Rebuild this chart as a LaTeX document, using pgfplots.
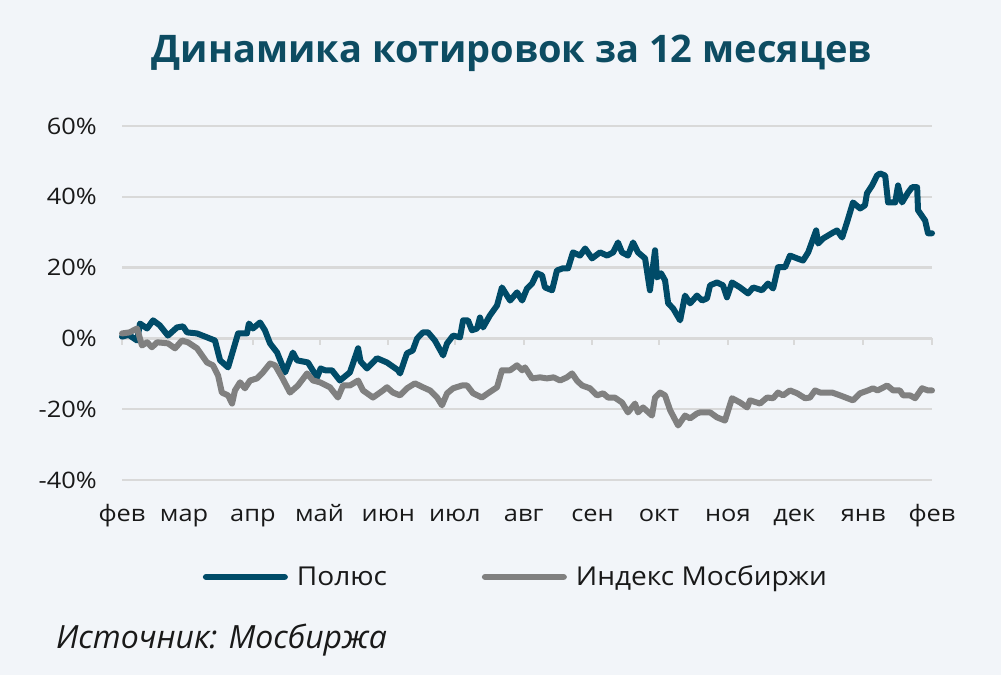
\documentclass[border=0pt]{standalone}
\usepackage{fontspec}
\setmainfont{Open Sans}
\newfontfamily\widefont{Open Sans}[FakeStretch=1.08]
\newfontfamily\tickfont{Open Sans}[FakeStretch=1.12]
\usepackage{pgfplots}
\usepackage{pgfplotstable}
\pgfplotsset{compat=1.18}
\definecolor{bg}{RGB}{242,245,249}
\definecolor{gridcol}{RGB}{217,217,217}
\definecolor{polcol}{RGB}{0,75,104}
\definecolor{titlecol}{RGB}{13,76,98}
\definecolor{idxcol}{RGB}{128,128,128}
\definecolor{txt}{RGB}{25,25,25}

\pgfplotstableread{
day pct
0 0.5
3 1.0
6.8 -0.6
8.1 4.2
11.3 2.8
14 5.1
17 3.7
20.7 0.8
24.8 3.1
27.5 3.4
29.3 1.7
33.8 1.4
38.3 0.3
41.9 -0.6
44.2 -6.2
47.8 -8.2
52.3 1.4
56.3 1.4
57.2 4.2
59 2.8
62.2 4.5
64.4 2.3
66.7 -1.4
69.9 -4.0
73.5 -9.6
77 -4.0
78.9 -6.2
83.8 -6.8
87.9 -11.0
89.5 -8.5
91.5 -9.0
94.6 -9.0
98.2 -11.9
102.7 -9.6
106.4 -2.8
107.5 -6.5
110.4 -8.5
114.9 -5.6
119.4 -6.8
124.4 -9.0
125.3 -9.9
128.4 -4.2
131 -3.4
133 0
135.6 1.7
137.9 1.7
141 -0.6
144.7 -4.8
146.5 -1.4
149.2 0.8
152.3 0.3
153.7 5.1
155.9 5.1
157.7 2.3
160 2.8
161.3 5.9
162.7 3.1
165.8 6.5
169 9.3
171.2 14.4
174.9 10.7
178 13
180.3 10.7
182.5 14.1
184.8 15.5
187 18.4
189.3 17.8
190.6 14.4
193.8 13.6
196 19.2
198.7 19.8
201 19.8
203.2 24.3
206.4 23.4
208.7 25.4
211.8 22.6
215.4 24.3
218.6 23.4
221.3 24.3
223.5 27.1
225.3 24.3
228 23.4
230.3 27.1
232.5 24.3
235.7 22.6
237.9 13.6
240.2 24.9
241.1 17.2
242.9 18.4
244.7 16.4
246.1 9.9
248.3 8.5
251.5 5.1
253.7 12.1
256 9.9
259.1 12.1
261.4 10.7
263.6 11.3
265 15
268.1 15.8
270.8 15
272.6 11.6
274.9 15.8
278.5 14.4
282.1 12.7
284.4 14.4
288.4 13.6
291.1 15.5
293.4 14.1
295.6 20.1
298.8 20.1
301 23.4
304.2 22.6
306.9 22
309.2 24.3
312.8 30.5
313.7 26.8
315.9 28.2
320.4 29.9
322.2 30.5
324.5 28.5
326.7 32.8
329.4 38.4
332.6 36.7
334.8 37.6
335.7 41
338 43.2
340.2 46
341.6 46.6
343.9 46
345.2 38.4
348.4 38.4
349.7 43.2
351.5 38.4
354.2 41.2
356 42.7
358.3 42.7
358.7 36.2
361.9 33.3
363.2 29.7
365 29.7
}\polyus

\pgfplotstableread{
day pct
0 1.4
3.4 1.7
6.8 2.8
9 -2
11.3 -1.1
13.5 -2.5
15.8 -1.1
20.7 -1.4
23.9 -2.8
27 -0.6
29.7 -1.1
33.8 -2.8
38.3 -6.8
41 -7.6
43.3 -10.5
45 -15.3
47.8 -16.1
49.6 -18.4
50.9 -14.7
53.2 -12.4
55.4 -14.1
57.7 -11.9
60.8 -11.3
63.5 -9.6
66.7 -7.1
69 -7.6
72.1 -11
75.7 -15.3
79.3 -13.3
83.4 -9.9
86.1 -11.9
89.2 -12.4
93.7 -13.8
97.3 -16.7
99.6 -13.3
102.7 -13.3
106.4 -11.9
108.6 -14.7
113.1 -16.7
117.6 -14.7
119.4 -13.8
122.1 -15.3
125.3 -16.1
128.4 -14.1
132 -12.7
135.6 -13.8
138.8 -14.7
142 -16.7
144.2 -18.9
146.5 -15.5
149.2 -14.1
153.2 -13.3
155.5 -13.3
158.2 -15.5
162.2 -16.7
164.9 -15.5
169 -13.8
171.2 -9
174.9 -9
178 -7.6
180.3 -9
181.6 -8.2
184.8 -11.3
188.4 -11
191.5 -11.3
194.5 -11
197.4 -11.9
200.5 -11
202.8 -9.9
205 -11.9
207.3 -13.3
210.9 -14.1
214.1 -16.1
216.8 -15.5
219 -16.7
222 -16.7
225.3 -18.1
228 -20.9
231.2 -18.4
232.5 -20.9
234.8 -19.5
238.8 -21.8
240.2 -16.7
242.5 -15.3
244.7 -16.1
247 -20.3
250.6 -24.6
253.7 -21.8
256 -22.6
259.1 -21.2
260.5 -20.9
265 -20.9
268.1 -22.3
271.7 -23.2
274.9 -16.9
278.5 -18.1
281.7 -19.5
283 -17.5
287.5 -18.4
290.7 -16.7
293.4 -16.9
295.6 -15.3
297.9 -16.1
301 -14.7
304.2 -15.5
307.8 -16.9
310 -16.7
312.3 -14.7
314.6 -15.3
320 -15.3
323.6 -16.1
329.4 -17.5
332.6 -15.5
336.2 -14.7
338.4 -14.1
340.5 -14.7
344.8 -13.3
347.5 -14.7
350.5 -14.7
352 -16.1
355.1 -16.1
357.4 -16.9
360.5 -14.1
363.2 -14.7
365 -14.7
}\moex

\begin{document}
\begin{tikzpicture}
\fill[bg] (-91.5bp,-146.25bp) rectangle (659.25bp,360bp);
\path[use as bounding box] (-91.5bp,-146.25bp) rectangle (659.25bp,360bp);
\node[font=\bfseries\fontsize{28.5bp}{34bp}\selectfont, text=titlecol] at (292.5bp,320bp) {Динамика котировок за 12 месяцев};
\begin{axis}[
  at={(0,0)}, anchor=south west,
  scale only axis, width=607.5bp, height=265.5bp,
  xmin=0, xmax=365, ymin=-40, ymax=60,
  axis line style={draw=none},
  major tick length=0pt,
  clip=false,
  ytick={-40,-20,0,20,40,60},
  yticklabels={-40\%,-20\%,0\%,20\%,40\%,60\%},
  ymajorgrids,
  grid style={gridcol, line width=1.8bp},
  xtick={0,28,59,89,120,150,181,212,242,273,303,334,365},
  xticklabels={фев,мар,апр,май,июн,июл,авг,сен,окт,ноя,дек,янв,фев},
  tick label style={font=\tickfont\fontsize{17bp}{20bp}\selectfont, text=txt},
  xticklabel style={anchor=base, inner sep=0pt, yshift=-30.75bp},
  yticklabel style={anchor=east, inner sep=0pt, xshift=-18.75bp},
  legend columns=2,
  legend style={at={(0.0995,-0.274)}, anchor=west, draw=none, fill=none, inner sep=0pt,
    font=\widefont\fontsize{19.5bp}{22bp}\selectfont, text=txt,
    nodes={inner sep=0pt},
    /tikz/every odd column/.append style={column sep=6.75bp}},
  legend image code/.code={\draw[#1, line width=5bp, line cap=round] (2.5bp,0bp) -- (61.25bp,0bp);},
]
\foreach \d in {0,28,59,89,120,150,181,212,242,273,303,334,365} {
  \edef\temp{\noexpand\draw[gridcol, line width=1.5bp] (axis cs:\d,0) -- ([yshift=-5.25bp]axis cs:\d,0);}
  \temp
}
\addplot[polcol, line width=4.5bp, line join=round, line cap=round] table[x=day,y=pct] {\polyus};
\addlegendentry{\makebox[138.75bp][l]{Полюс}}
\addplot[idxcol, line width=4.5bp, line join=round, line cap=round] table[x=day,y=pct] {\moex};
\addlegendentry{Индекс Мосбиржи}
\end{axis}
\node[anchor=west, font=\itshape\fontsize{24bp}{28bp}\selectfont, text=txt] at (-53bp,-120bp) {Источник: Мосбиржа};
\end{tikzpicture}
\end{document}
